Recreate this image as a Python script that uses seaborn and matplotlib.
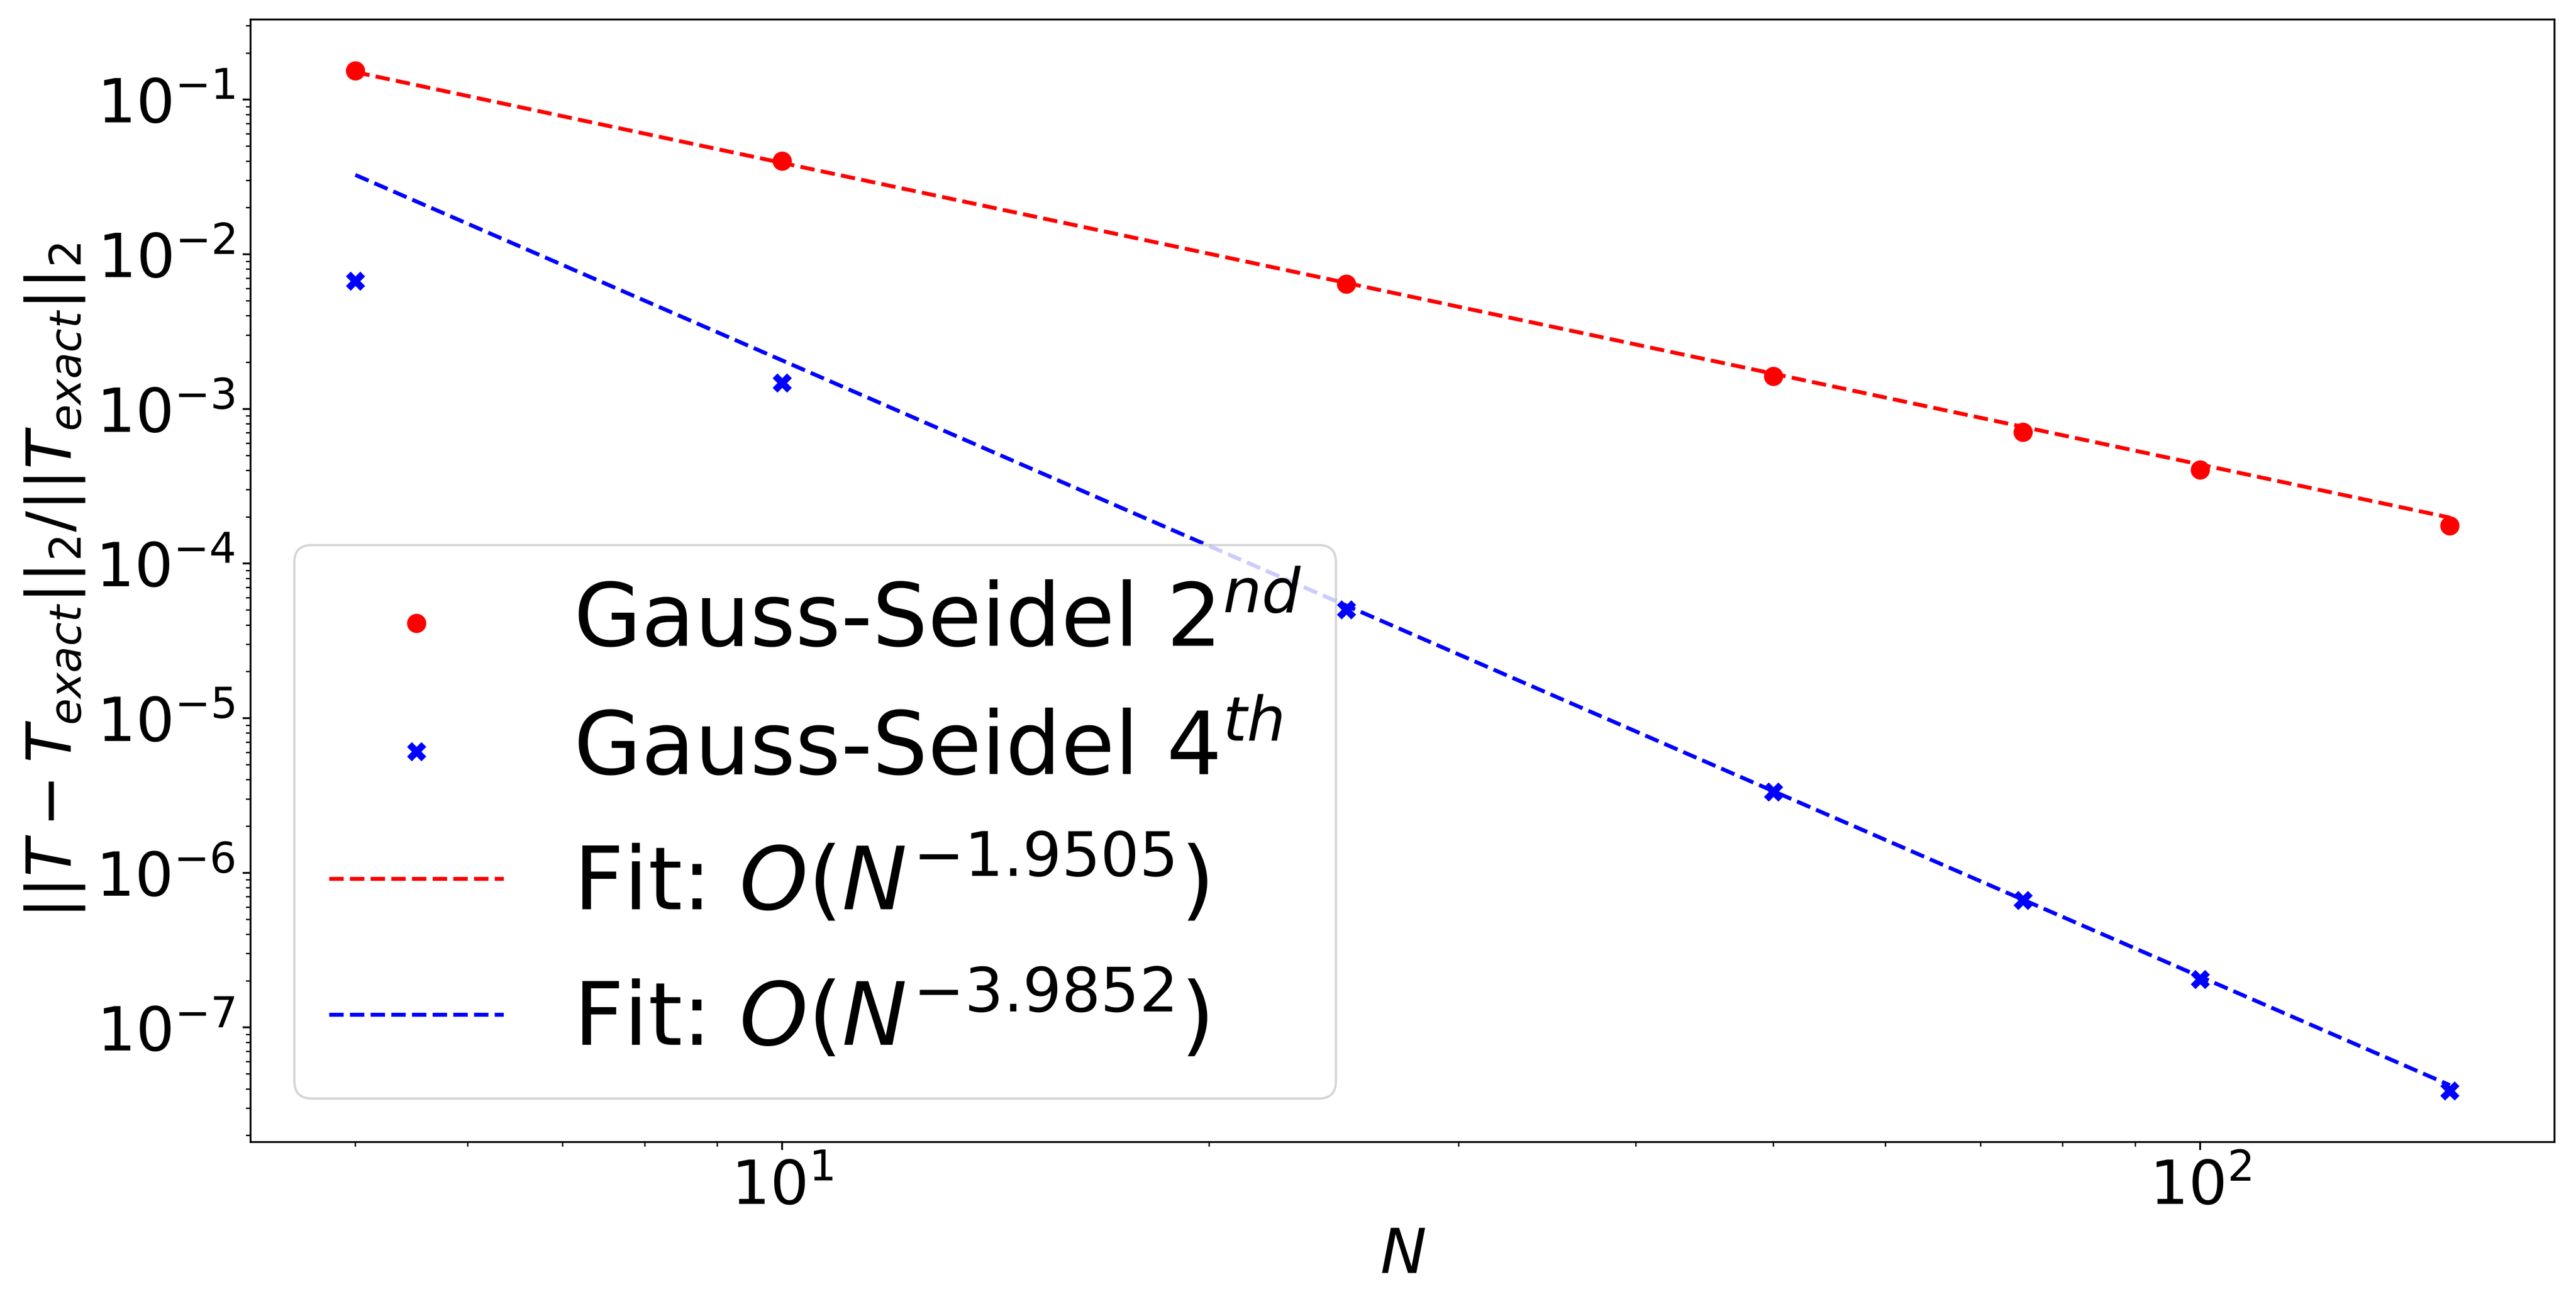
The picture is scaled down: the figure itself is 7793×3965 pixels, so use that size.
import numpy as np
import pandas as pd
import matplotlib
matplotlib.use("Agg")
import matplotlib.pyplot as plt
import seaborn as sns

# grid sizes and relative L2 errors
grid_n = [5, 10, 25, 50, 75, 100, 150]
err_gs2 = [0.154, 0.0402, 0.00641, 0.00163, 7.09e-4, 4.04e-4, 1.76e-4]
err_gs4 = [0.00673, 0.001476, 5.04e-5, 3.33e-6, 6.64e-7, 2.05e-7, 3.89e-8]

# power-law fits  err = coef * N**slope
fit_slope_gs2 = -1.9505
fit_coef_gs2 = 3.48
fit_slope_gs4 = -3.9852
fit_coef_gs4 = 19.9

df = pd.DataFrame({"N": grid_n, "gs2": err_gs2, "gs4": err_gs4})
n_arr = np.array(grid_n, dtype=float)
df["fit2"] = fit_coef_gs2 * n_arr ** fit_slope_gs2
df["fit4"] = fit_coef_gs4 * n_arr ** fit_slope_gs4

fig, ax = plt.subplots(figsize=(15.586, 7.93), dpi=500)
fig.subplots_adjust(left=0.0973, right=0.9917, top=0.985, bottom=0.129)

sns.scatterplot(data=df, x="N", y="gs2", ax=ax, color="red", marker="o",
                s=70, linewidth=0, label=r"Gauss-Seidel $2^{nd}$")
sns.scatterplot(data=df, x="N", y="gs4", ax=ax, color="blue", marker="X",
                s=70, linewidth=0, label=r"Gauss-Seidel $4^{th}$")
sns.lineplot(data=df, x="N", y="fit2", ax=ax, color="red", linestyle="--",
             linewidth=1.7, label=rf"Fit: $O(N^{{{fit_slope_gs2:.4f}}})$")
sns.lineplot(data=df, x="N", y="fit4", ax=ax, color="blue", linestyle="--",
             linewidth=1.7, label=rf"Fit: $O(N^{{{fit_slope_gs4:.4f}}})$")

ax.set_xscale("log")
ax.set_yscale("log")
ax.set_xlabel(r"$N$", fontsize=27)
ax.set_ylabel(r"$||T - T_{exact}||_2/||T_{exact}||_2$", fontsize=27)
ax.tick_params(axis="both", which="major", labelsize=26.5)
ax.legend(fontsize=38, loc="lower left")

fig.savefig("out.png", dpi=500)
